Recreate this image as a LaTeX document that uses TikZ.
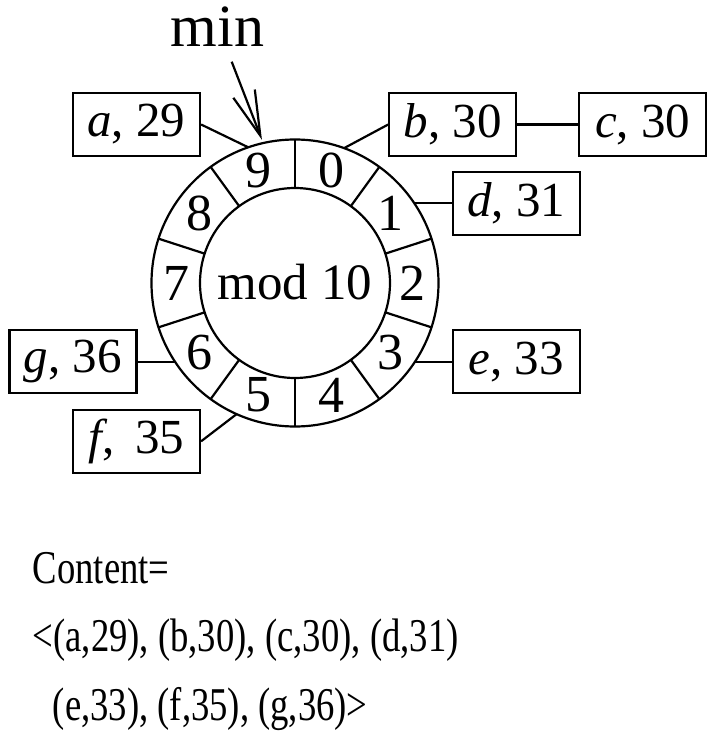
\documentclass[tikz,border=0pt]{standalone}
\usepackage{fontspec}
\usepackage{graphicx}
\setmainfont{Liberation Serif}
\usetikzlibrary{arrows.meta}
\begin{document}
\begin{tikzpicture}[x=1pt,y=1pt,line width=2.2pt,
  rec/.style={draw, minimum width=127pt, minimum height=63pt, inner sep=0pt, font=\fontsize{49}{50}\selectfont},
  lab/.style={inner sep=0pt, font=\fontsize{52}{52}\selectfont},
  txt/.style={anchor=base west, inner sep=0pt, font=\fontsize{47}{50}\selectfont},
  conn/.style={draw, line width=2.2pt}]
\useasboundingbox (-295,-473) rectangle (432,283);
% ring
\node[circle, draw, minimum size=287pt, inner sep=0pt] (outer) at (0,0) {};
\node[circle, draw, minimum size=190pt, inner sep=0pt] (inner) at (0,0) {};
\node[inner sep=0pt, font=\fontsize{51}{51}\selectfont] (modt) at (0,1) {mod 10};
\foreach \a in {90,54,18,-18,-54,-90,-126,-162,162,126}
  \draw (\a:95) -- (\a:143.5);
\foreach \k in {0,...,9}
  \node[lab] (l\k) at ({72-36*\k}:118) {\k};
% boxes
\node[rec] (a) at (-158.5,158.5) {\textit{a}, 29};
\node[rec] (b) at (157.8,158.5) {\textit{b}, 30};
\node[rec] (c) at (347.8,158.5) {\textit{c}, 30};
\node[rec] (d) at (221.2,79.7) {\textit{d}, 31};
\node[rec] (e) at (221.2,-78.7) {\textit{e}, 33};
\node[rec] (g) at (-222,-78.7) {\textit{g}, 36};
\node[rec] (f) at (-158.5,-158.3) {\textit{f}, \,35};
% attachment points on the ring
\coordinate (p9) at (109:143.5);
\coordinate (p0) at (70:143.5);
\coordinate (p1) at (119.3,79.7);
\coordinate (p3) at (120,-78.7);
\coordinate (p6) at (-120,-78.7);
\coordinate (p5) at (-114:143.5);
% connectors
\draw[conn] (a.east) -- (p9);
\draw[conn] (b.west) -- (p0);
\draw[conn] (b.east) -- (c.west);
\draw[conn] (p1) -- (d.west);
\draw[conn] (p3) -- (e.west);
\draw[conn] (p6) -- (g.east);
\draw[conn] (f.east) -- (p5);
% min pointer
\node[anchor=base, inner sep=0pt, font=\fontsize{60}{60}\selectfont] (min) at (-77.5,236.3) {min};
\coordinate (mtail) at (-63.3,221.3);
\coordinate (mtip) at (103:147);
\draw[-{Straight Barb[length=45pt,width=23pt,line width=2.2pt]}] (mtail) -- (mtip);
% content text
\node[txt] (t1) at (-263.3,-300) {\scalebox{0.78}[1]{Content=}};
\node[txt] (t2) at (-263.3,-368.7) {\scalebox{0.78}[1]{<(a,29), (b,30), (c,30), (d,31)}};
\node[txt] (t3) at (-243.3,-437) {\scalebox{0.78}[1]{(e,33), (f,35), (g,36)>}};
\end{tikzpicture}
\end{document}
